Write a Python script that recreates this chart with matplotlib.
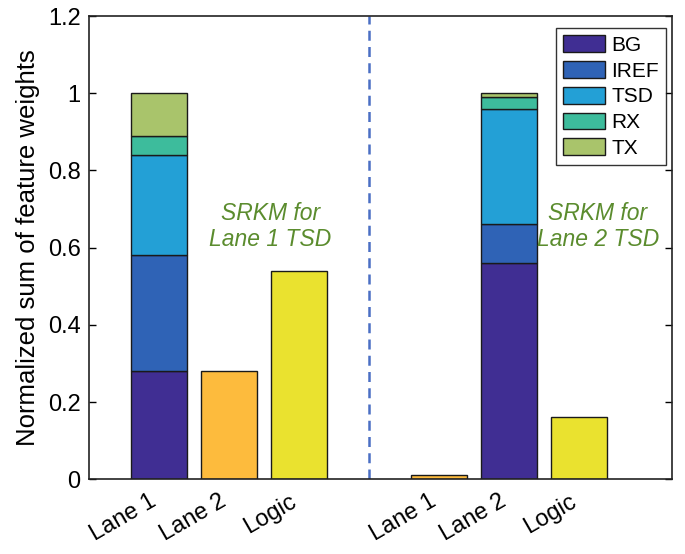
import numpy as np
import matplotlib
matplotlib.use("Agg")
import matplotlib.pyplot as plt
import matplotlib.transforms as mtransforms
from matplotlib.patches import Patch

# data
features = ['BG', 'IREF', 'TSD', 'RX', 'TX']
feat_colors = ['#402e93', '#2f63b6', '#23a0d6', '#3dbc9c', '#a9c46b']

# stacked bars (one per group): feature weights
lane1_tsd_stack = [0.28, 0.30, 0.26, 0.05, 0.11]
lane2_tsd_stack = [0.56, 0.10, 0.30, 0.03, 0.01]

# single bars
lane1_group_other = [0.28, 0.54]   # Lane 2, Logic for Lane 1 TSD
lane2_group_other = [0.01, 0.16]   # Lane 1, Logic for Lane 2 TSD

tick_labels = ['Lane 1', 'Lane 2', 'Logic', 'Lane 1', 'Lane 2', 'Logic']
positions = [1, 2, 3, 5, 6, 7]

orange = '#fdbb3d'
yellow = '#eae22f'
text_green = '#5b8c2e'

plt.rcParams['font.family'] = ['Liberation Sans', 'DejaVu Sans']
fig, ax = plt.subplots(figsize=(6.85, 5.54), dpi=100)
fig.subplots_adjust(left=0.13, right=0.981, top=0.971, bottom=0.135)

w = 0.8
ec = '#1a1a1a'

def stack(x, vals):
    bottom = 0
    for v, c in zip(vals, feat_colors):
        ax.bar(x, v, width=w, bottom=bottom, color=c, edgecolor=ec, linewidth=1.0)
        bottom += v

stack(1, lane1_tsd_stack)
ax.bar(2, lane1_group_other[0], width=w, color=orange, edgecolor=ec, linewidth=1.0)
ax.bar(3, lane1_group_other[1], width=w, color=yellow, edgecolor=ec, linewidth=1.0)

ax.bar(5, lane2_group_other[0], width=w, color=orange, edgecolor=ec, linewidth=1.0)
stack(6, lane2_tsd_stack)
ax.bar(7, lane2_group_other[1], width=w, color=yellow, edgecolor=ec, linewidth=1.0)

ax.axvline(4, color='#4a6fc4', linestyle='--', linewidth=1.8, dashes=(4, 2.5))

ax.text(2.59, 0.655, 'SRKM for\nLane 1 TSD', color=text_green, style='italic',
        fontsize=16.5, ha='center', va='center', linespacing=1.2)
ax.text(7.27, 0.655, 'SRKM for\nLane 2 TSD', color=text_green, style='italic',
        fontsize=16.5, ha='center', va='center', linespacing=1.2)

ax.set_xlim(0, 8.33)
ax.set_ylim(0, 1.2)
ax.set_yticks([0, 0.2, 0.4, 0.6, 0.8, 1.0, 1.2])
ax.set_yticklabels(['0', '0.2', '0.4', '0.6', '0.8', '1', '1.2'])
ax.set_xticks(positions)
ax.set_xticklabels(tick_labels, rotation=30, ha='right', rotation_mode='anchor')
ax.tick_params(axis='both', direction='in', labelsize=17, length=5, width=1.0,
               top=False, right=True)
ax.tick_params(axis='y', pad=6)
ax.tick_params(axis='x', length=0, pad=8)
# nudge rotated labels left a bit, like the original
offset = mtransforms.ScaledTranslation(-7 / 72, 0, fig.dpi_scale_trans)
for lbl in ax.get_xticklabels():
    lbl.set_transform(lbl.get_transform() + offset)
ax.set_ylabel('Normalized sum of feature weights', fontsize=18.5, labelpad=6)
for s in ax.spines.values():
    s.set_linewidth(1.2)
    s.set_color('#222222')

handles = [Patch(facecolor=c, edgecolor=ec, label=f) for f, c in zip(features, feat_colors)]
leg = ax.legend(handles=handles, loc='upper right', bbox_to_anchor=(0.99, 0.974),
                borderaxespad=0, fontsize=15, frameon=True, fancybox=False,
                edgecolor='black', handlelength=2.0, handleheight=0.85,
                labelspacing=0.3, handletextpad=0.3, borderpad=0.35)
leg.get_frame().set_linewidth(1.0)

fig.savefig('out.png', dpi=100)
